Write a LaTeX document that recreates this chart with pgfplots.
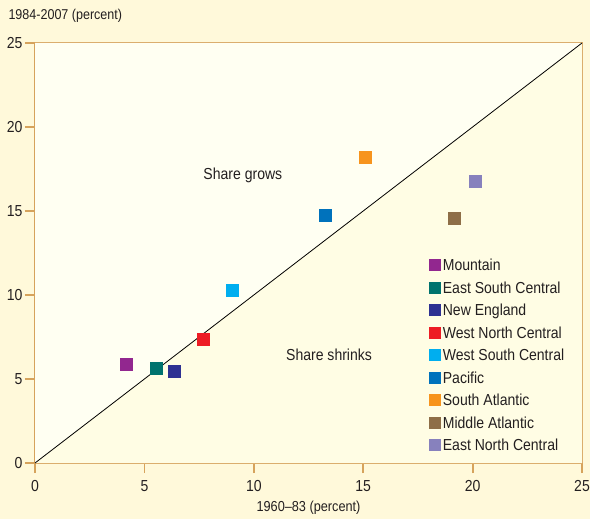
\documentclass[border=0pt]{standalone}
\usepackage{pgfplots}
\pgfplotsset{compat=1.18}
\usepackage{fontspec}
\setmainfont{Liberation Sans}[FakeStretch=0.88]

\definecolor{outerbg}{HTML}{FFF9DA}
\definecolor{upperbg}{HTML}{FFFFF2}
\definecolor{lowerbg}{HTML}{FFFDE4}
\definecolor{axiscol}{HTML}{D6A35C}
\definecolor{txt}{HTML}{231F20}
\definecolor{cMountain}{HTML}{92278F}
\definecolor{cESC}{HTML}{00736E}
\definecolor{cNE}{HTML}{2E3192}
\definecolor{cWNC}{HTML}{ED1C24}
\definecolor{cWSC}{HTML}{00AEEF}
\definecolor{cPac}{HTML}{0072BC}
\definecolor{cSA}{HTML}{F7941D}
\definecolor{cMA}{HTML}{8E6E47}
\definecolor{cENC}{HTML}{8781BD}

\pgfplotsset{
  dot/.style={only marks, mark=square*, color=#1, mark size=6bp, mark options={draw=none}},
}

\begin{document}
\begin{tikzpicture}
\fill[outerbg] (0,0) rectangle (590bp,519bp);
\path[use as bounding box] (0,0) rectangle (590bp,519bp);
\begin{axis}[
  at={(35bp,56bp)}, anchor=south west,
  width=547bp, height=420bp, scale only axis,
  xmin=0, xmax=25, ymin=0, ymax=25,
  xtick={0,5,...,25}, ytick={0,5,...,25},
  axis line style={axiscol, line width=1.8bp},
  tick style={axiscol, line width=1.8bp},
  tick align=outside, major tick length=10bp,
  xtick pos=bottom, ytick pos=left,
  ticklabel style={font=\fontsize{16}{18}\selectfont, text=txt},
  xticklabel style={yshift=-4bp},
  yticklabel style={xshift=1bp},
  /pgf/number format/assume math mode=true,
  clip=false,
  xlabel={1960--83 (percent)},
  ylabel={1984-2007 (percent)},
  every axis x label/.style={at={(rel axis cs:0.5,0)}, anchor=center, yshift=-45bp,
    font=\fontsize{14.5}{17}\selectfont, text=txt},
  every axis y label/.style={at={(rel axis cs:0,1)}, anchor=west, xshift=-30bp, yshift=27bp,
    font=\fontsize{14.3}{17}\selectfont, text=txt},
  legend style={at={(axis cs:17.86,12.25)}, anchor=north west, draw=none, fill=none,
    font=\fontsize{16}{18}\selectfont, text=txt, row sep=11bp,
    nodes={inner xsep=2.5bp, inner ysep=0pt, text height=11.5bp, text depth=0bp}},
  legend cell align=left,
  legend image code/.code={\fill (0bp,-5.5bp) rectangle (11bp,5.5bp);},
]
% background halves
\addplot[fill=upperbg, draw=none, forget plot] coordinates {(0,0) (0,25) (25,25)} --cycle;
\addplot[fill=lowerbg, draw=none, forget plot] coordinates {(0,0) (25,0) (25,25)} --cycle;
\addplot[black, line width=0.8bp, forget plot] coordinates {(0,0) (25,25)};

\addplot[dot=cMountain] coordinates {(4.16,5.89)};
\addlegendentry{Mountain}
\addplot[dot=cESC] coordinates {(5.53,5.65)};
\addlegendentry{East South Central}
\addplot[dot=cNE] coordinates {(6.35,5.48)};
\addlegendentry{New England}
\addplot[dot=cWNC] coordinates {(7.68,7.38)};
\addlegendentry{West North Central}
\addplot[dot=cWSC] coordinates {(9.0,10.3)};
\addlegendentry{West South Central}
\addplot[dot=cPac] coordinates {(13.25,14.76)};
\addlegendentry{Pacific}
\addplot[dot=cSA] coordinates {(15.08,18.21)};
\addlegendentry{South Atlantic}
\addplot[dot=cMA] coordinates {(19.15,14.58)};
\addlegendentry{Middle Atlantic}
\addplot[dot=cENC] coordinates {(20.11,16.79)};
\addlegendentry{East North Central}

\node[font=\fontsize{16}{18}\selectfont, text=txt] at (axis cs:9.5,17.1) {Share grows};
\node[font=\fontsize{16}{18}\selectfont, text=txt] at (axis cs:13.44,6.43) {Share shrinks};
\end{axis}
\end{tikzpicture}
\end{document}
